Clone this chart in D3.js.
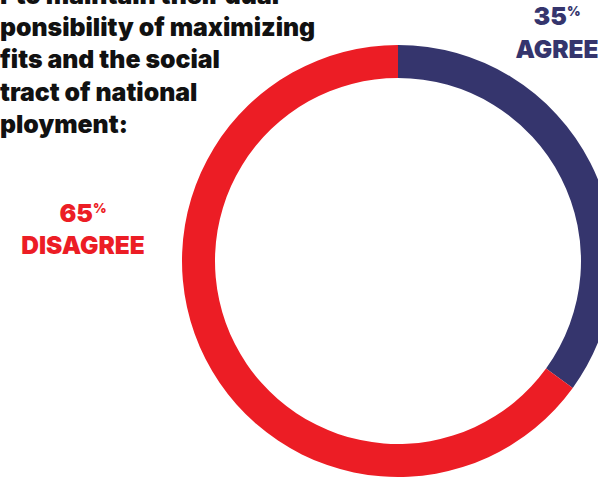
<!DOCTYPE html>
<html><head><meta charset="utf-8">
<script src="https://cdn.jsdelivr.net/npm/d3@7/dist/d3.min.js"></script>
<style>
html,body{margin:0;padding:0;background:#fff;overflow:hidden}
svg{display:block}
text{font-family:Inter, Lato, "Open Sans", sans-serif;font-weight:900}
</style></head>
<body>
<script>
const categories = ["AGREE", "DISAGREE"];
const values = [35, 65];
const colors = ["#35356d", "#ec1d25"];
const titleLines = [
  {cut: "harde", text: "harder to maintain their dual"},
  {cut: "res", text: "responsibility of maximizing"},
  {cut: "pro", text: "profits and the social"},
  {cut: "con", text: "contract of national"},
  {cut: "em", text: "employment:"}
];

const W = 598, H = 479;
const svg = d3.select("body").append("svg").attr("width", W).attr("height", H);

const cx = 398, cy = 261, rOuter = 216, rInner = 183;
const pie = d3.pie().sort(null).value(d => d)(values);
const arc = d3.arc().innerRadius(rInner).outerRadius(rOuter);
svg.append("g").attr("transform", `translate(${cx},${cy})`)
  .selectAll("path").data(pie).join("path")
  .attr("d", arc).attr("fill", (d, i) => colors[i]);

// title (cropped at the left edge)
const fs = 24.8;
const tg = svg.append("g");
const measure = svg.append("text").style("font-size", fs + "px").attr("x", -1000);
titleLines.forEach((l, i) => {
  measure.text(l.cut);
  const w = measure.node().getComputedTextLength();
  tg.append("text")
    .attr("x", -w)
    .attr("y", 4 + i * 32.2)
    .style("font-size", fs + "px")
    .attr("fill", "#111")
    .text(l.text);
});
measure.remove();

// labels
const labels = [
  {x: 557, y1: 25, y2: 58},
  {x: 83, y1: 222, y2: 254}
];
categories.forEach((c, i) => {
  const L = labels[i];
  const t = svg.append("text").attr("x", L.x).attr("y", L.y1)
    .attr("text-anchor", "middle").attr("fill", colors[i]).style("font-size", "25px");
  t.append("tspan").text(values[i]);
  t.append("tspan").text("%").style("font-size", "13px").attr("dy", -9);
  svg.append("text").attr("x", L.x).attr("y", L.y2)
    .attr("text-anchor", "middle").attr("fill", colors[i]).style("font-size", "24.5px")
    .text(c);
});
</script>
</body></html>
